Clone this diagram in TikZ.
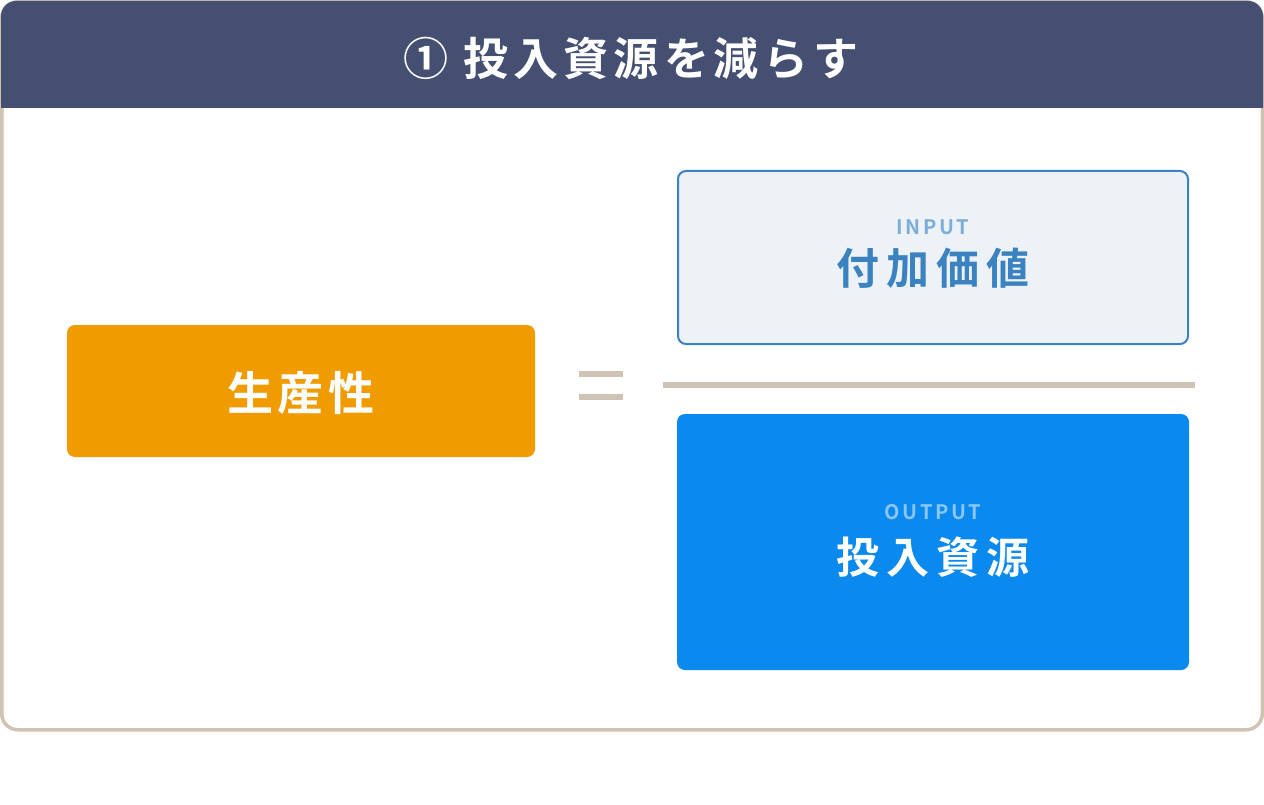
\documentclass[tikz,border=0pt]{standalone}
\usepackage{fontspec}
\newfontfamily\jpb{Noto Sans CJK JP Bold}
\definecolor{navy}{HTML}{444F72}
\definecolor{beige}{HTML}{CFC3B3}
\definecolor{orangebox}{HTML}{F09C00}
\definecolor{inboxfill}{HTML}{EDF2F7}
\definecolor{inboxline}{HTML}{3B82C4}
\definecolor{inboxtext}{HTML}{3A82C0}
\definecolor{insmall}{HTML}{7AAED8}
\definecolor{outbox}{HTML}{0A89EE}
\definecolor{outsmall}{HTML}{8CC6F4}
\tikzset{
  txt/.style={anchor=base, inner sep=0pt},
  boxstyle/.style={rectangle, rounded corners=8pt, inner sep=0pt},
}
\begin{document}
\begin{tikzpicture}[x=1pt,y=-1pt]
\useasboundingbox (0,0) rectangle (1264,805);
\fill[white] (0,0) rectangle (1264,805);
% outer frame
\draw[beige, fill=white, rounded corners=16pt, line width=3.5pt] (1.75,1.75) rectangle (1262.25,729.75);
\begin{scope}
  \clip[rounded corners=15pt] (1,1) rectangle (1263,730);
  \fill[navy] (0,0) rectangle (1264,108);
\end{scope}
\node[txt, text=white, font=\jpb\fontsize{45pt}{45pt}\selectfont] (title) at (631,76)
  {①\kern16pt 投\kern5pt 入\kern5pt 資\kern5pt 源\kern5pt を\kern5pt 減\kern5pt ら\kern5pt す};
% left box
\node[boxstyle, fill=orangebox, minimum width=468pt, minimum height=132pt] (prod) at (301,391) {};
\node[txt, text=white, font=\jpb\fontsize{46pt}{46pt}\selectfont] (prodtxt) at (301,410)
  {生\kern5pt 産\kern5pt 性};
% equals sign
\fill[beige] (579,371) rectangle (623,376.5);
\fill[beige] (579,394) rectangle (623,399.5);
% fraction line
\coordinate (fracL) at (663,385);
\coordinate (fracR) at (1195,385);
\draw[beige, line width=6pt] (fracL) -- (fracR);
% input box
\node[boxstyle, draw=inboxline, line width=2pt, fill=inboxfill, minimum width=510pt, minimum height=173pt] (inbox) at (933,257.5) {};
\node[txt, text=insmall, font=\jpb\fontsize{20pt}{20pt}\selectfont] (inlabel) at (933,235)
  {I\kern2.5pt N\kern2.5pt P\kern2.5pt U\kern2.5pt T};
\node[txt, text=inboxtext, font=\jpb\fontsize{43pt}{43pt}\selectfont] (intxt) at (933,284)
  {付\kern7pt 加\kern7pt 価\kern7pt 値};
% output box
\node[boxstyle, fill=outbox, minimum width=512pt, minimum height=256pt] (outbox) at (933,542) {};
\node[txt, text=outsmall, font=\jpb\fontsize{20pt}{20pt}\selectfont] (outlabel) at (933,519)
  {O\kern2.5pt U\kern2.5pt T\kern2.5pt P\kern2.5pt U\kern2.5pt T};
\node[txt, text=white, font=\jpb\fontsize{43pt}{43pt}\selectfont] (outtxt) at (933,573)
  {投\kern7pt 入\kern7pt 資\kern7pt 源};
\end{tikzpicture}
\end{document}
